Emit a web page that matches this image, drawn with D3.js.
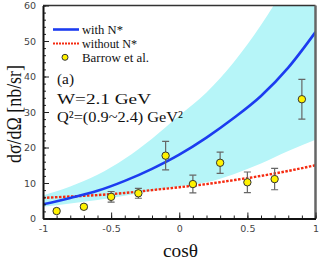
<!DOCTYPE html>
<html>
<head>
<meta charset="utf-8">
<script src="https://cdn.jsdelivr.net/npm/d3@7"></script>
<style>
  body { margin: 0; background: #fff; }
  svg { display: block; }
</style>
</head>
<body>
<div id="chart"></div>
<script>
// curve grid (cos theta)
const curveX = [-1, -0.8, -0.6, -0.4, -0.2, 0, 0.2, 0.4, 0.6, 0.8, 1];
const withNstar = [4.0, 5.8, 7.8, 10.6, 14.0, 18.0, 22.8, 28.3, 34.5, 42.5, 52.5];
const withoutNstar = [5.8, 6.2, 6.6, 7.2, 8.0, 8.8, 9.7, 10.8, 12.0, 13.4, 15.0];
const bandUpper = [6.5, 9.0, 12.3, 16.8, 22.5, 29.0, 35.5, 44.0, 54.5, 67.0, 82.0];
const bandLower = [3.3, 4.2, 5.2, 6.4, 7.8, 9.0, 10.2, 12.5, 15.5, 19.0, 22.2];

// Barrow et al. data
const dataX = [-0.9, -0.7, -0.5, -0.3, -0.1, 0.1, 0.3, 0.5, 0.7, 0.9];
const dataY = [2.1, 3.3, 6.1, 7.1, 17.7, 9.7, 15.7, 10.2, 11.1, 33.6];
const dataErr = [0.5, 0.5, 1.5, 1.4, 4.0, 2.5, 3.0, 2.9, 3.0, 5.6];

const xMajor = [-1, -0.5, 0, 0.5, 1];
const xMinor = d3.range(-10, 11).map(i => i / 10);
const yMajor = [0, 10, 20, 30, 40, 50, 60];
const yMinor = d3.range(0, 61, 2);

const W = 327, H = 262;
const m = { left: 43, right: 315.5, top: 5.5, bottom: 218.5 };

const svg = d3.select('#chart').append('svg')
    .attr('width', W)
    .attr('height', H);

const x = d3.scaleLinear().domain([-1, 1]).range([m.left, m.right]);
const y = d3.scaleLinear().domain([0, 60]).range([m.bottom, m.top]);

svg.append('clipPath').attr('id', 'plot-clip')
    .append('rect')
    .attr('x', m.left).attr('y', m.top)
    .attr('width', m.right - m.left).attr('height', m.bottom - m.top);

const plot = svg.append('g').attr('clip-path', 'url(#plot-clip)');

const curve = curveX.map((cx, i) => ({
    x: cx, w: withNstar[i], wo: withoutNstar[i], hi: bandUpper[i], lo: bandLower[i]
}));

// uncertainty band
plot.append('path')
    .datum(curve)
    .attr('fill', '#b6f5f8')
    .attr('d', d3.area()
        .curve(d3.curveMonotoneX)
        .x(d => x(d.x))
        .y0(d => y(d.lo))
        .y1(d => y(d.hi)));

// without N*
plot.append('path')
    .datum(curve)
    .attr('fill', 'none')
    .attr('stroke', '#f52a10')
    .attr('stroke-width', 2.4)
    .attr('stroke-dasharray', '2.5,1.5')
    .attr('d', d3.line().curve(d3.curveMonotoneX).x(d => x(d.x)).y(d => y(d.wo)));

// with N*
plot.append('path')
    .datum(curve)
    .attr('fill', 'none')
    .attr('stroke', '#1c3cf0')
    .attr('stroke-width', 2.6)
    .attr('d', d3.line().curve(d3.curveMonotoneX).x(d => x(d.x)).y(d => y(d.w)));

// data points with error bars
const pts = dataX.map((dx, i) => ({ x: dx, y: dataY[i], e: dataErr[i] }));
const pg = plot.selectAll('g.pt').data(pts).join('g').attr('class', 'pt');
pg.append('line')
    .attr('x1', d => x(d.x)).attr('x2', d => x(d.x))
    .attr('y1', d => y(d.y - d.e)).attr('y2', d => y(d.y + d.e))
    .attr('stroke', '#666').attr('stroke-width', 1.2);
pg.selectAll('line.cap')
    .data(d => [d.y - d.e, d.y + d.e].map(v => ({ x: d.x, v })))
    .join('line').attr('class', 'cap')
    .attr('x1', d => x(d.x) - 3.5).attr('x2', d => x(d.x) + 3.5)
    .attr('y1', d => y(d.v)).attr('y2', d => y(d.v))
    .attr('stroke', '#666').attr('stroke-width', 1.2);
pg.append('circle')
    .attr('cx', d => x(d.x)).attr('cy', d => y(d.y))
    .attr('r', 3.7)
    .attr('fill', '#fff200')
    .attr('stroke', '#333').attr('stroke-width', 1);

// frame: top and right
svg.append('line')
    .attr('x1', m.left).attr('x2', m.right).attr('y1', m.top).attr('y2', m.top)
    .attr('stroke', '#333').attr('stroke-width', 1.3);
svg.append('line')
    .attr('x1', m.right).attr('x2', m.right).attr('y1', m.top).attr('y2', m.bottom)
    .attr('stroke', '#666').attr('stroke-width', 2.5);

// axes
function styleAxis(g) {
    g.selectAll('.domain').attr('stroke', '#111').attr('stroke-width', 2);
    g.selectAll('.tick line').attr('stroke', '#222').attr('stroke-width', 1);
    g.selectAll('.tick text')
        .attr('fill', '#444')
        .style('font-family', '"DejaVu Sans", sans-serif')
        .style('font-size', '9.5px');
}

svg.append('g')
    .attr('transform', `translate(0,${m.bottom})`)
    .call(d3.axisBottom(x).tickValues(xMinor).tickSize(-3).tickFormat('').tickSizeOuter(0))
    .call(g => g.select('.domain').remove())
    .call(styleAxis);
svg.append('g')
    .attr('transform', `translate(0,${m.bottom})`)
    .call(d3.axisBottom(x).tickValues(xMajor).tickSize(-6).tickSizeOuter(0).tickPadding(7)
        .tickFormat(d => String(d)))
    .call(styleAxis);

svg.append('g')
    .attr('transform', `translate(${m.left},0)`)
    .call(d3.axisLeft(y).tickValues(yMinor).tickSize(-3).tickFormat('').tickSizeOuter(0))
    .call(g => g.select('.domain').remove())
    .call(styleAxis);
svg.append('g')
    .attr('transform', `translate(${m.left},0)`)
    .call(d3.axisLeft(y).tickValues(yMajor).tickSize(-6).tickSizeOuter(0).tickPadding(7)
        .tickFormat(d => String(d)))
    .call(styleAxis);

// text helper
const serif = '"Liberation Serif", "Times New Roman", serif';
function label(txt, tx, ty, size, len, anchor) {
    const t = svg.append('text')
        .attr('x', tx).attr('y', ty)
        .attr('fill', '#111')
        .style('font-family', serif)
        .style('font-size', size + 'px')
        .attr('text-anchor', anchor || 'start')
        .text(txt);
    if (len) t.attr('textLength', len).attr('lengthAdjust', 'spacingAndGlyphs');
    return t;
}

// legend
svg.append('line').attr('x1', 53).attr('x2', 79).attr('y1', 29.5).attr('y2', 29.5)
    .attr('stroke', '#1c3cf0').attr('stroke-width', 2.6);
svg.append('line').attr('x1', 53).attr('x2', 79).attr('y1', 43.5).attr('y2', 43.5)
    .attr('stroke', '#f52a10').attr('stroke-width', 2).attr('stroke-dasharray', '2,1');
svg.append('circle').attr('cx', 65).attr('cy', 57.3).attr('r', 3)
    .attr('fill', '#fff200').attr('stroke', '#333').attr('stroke-width', 1);
label('with N*', 82, 33.5, 12.5, 41);
label('without N*', 82, 47.5, 12.5, 55);
label('Barrow et al.', 82, 61.5, 12.5, 67);

// annotations
label('(a)', 57, 84, 15.5, 17);
label('W=2.1 GeV', 57, 103.5, 15.5, 94);
label('Q\u00b2=(0.9~2.4) GeV\u00b2', 57, 122, 15.5, 126);

// axis titles
label('cos\u03b8', 180.5, 256.5, 18, 35, 'middle');
label('d\u03c3/d\u03a9 [nb/sr]', 0, 0, 20, 98, 'middle')
    .attr('transform', 'translate(21,114) rotate(-90)');
</script>
</body>
</html>
